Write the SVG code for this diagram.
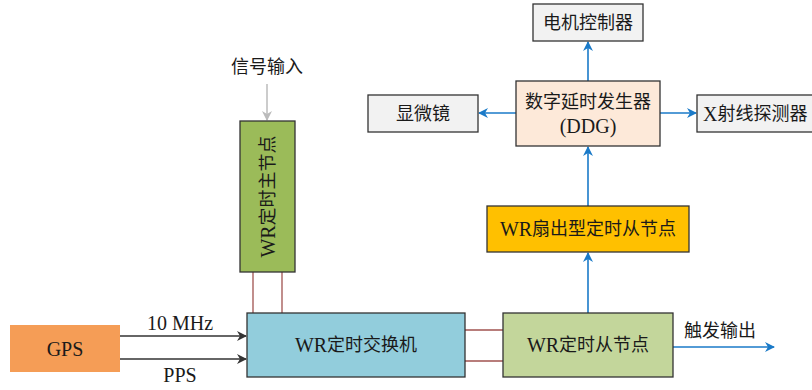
<svg xmlns="http://www.w3.org/2000/svg" width="812" height="390" viewBox="0 0 812 390">
<style>
text{font-family:"Liberation Serif","Noto Sans CJK SC",serif;font-size:18px;fill:#1a1a1a;text-anchor:middle;dominant-baseline:central}
.L{font-size:20px}
.box{stroke:#333;stroke-width:1.3}
.blk{stroke:#333;stroke-width:1.3;fill:none}
.blue{stroke:#1a7ac8;stroke-width:1.6;fill:none}
.red{stroke:#a0524f;stroke-width:1.3;fill:none}
.gray{stroke:#bbb;stroke-width:1.5;fill:none}
</style>
<defs>
<marker id="ab" viewBox="0 0 10 10" refX="9" refY="5" markerWidth="10" markerHeight="10" markerUnits="userSpaceOnUse" orient="auto"><path d="M0,0 L10,5 L0,10 L3,5 Z" fill="#1a7ac8"/></marker>
<marker id="ak" viewBox="0 0 10 10" refX="9" refY="5" markerWidth="10" markerHeight="10" markerUnits="userSpaceOnUse" orient="auto"><path d="M0,0 L10,5 L0,10 L3,5 Z" fill="#333"/></marker>
<marker id="ag" viewBox="0 0 10 10" refX="9" refY="5" markerWidth="10" markerHeight="10" markerUnits="userSpaceOnUse" orient="auto"><path d="M0,0 L10,5 L0,10 L3,5 Z" fill="#bbb"/></marker>
</defs>
<g id="connectors">
<line class="blk" x1="120" y1="336" x2="246" y2="336" marker-end="url(#ak)"/>
<line class="blk" x1="120" y1="359" x2="246" y2="359" marker-end="url(#ak)"/>
<text x="180" y="323" class="L">10 MHz</text>
<text x="180" y="375" class="L">PPS</text>
<line class="gray" x1="267" y1="84" x2="267" y2="120" marker-end="url(#ag)"/>
<text x="267" y="67">信号输入</text>
<line class="red" x1="253" y1="272" x2="253" y2="313"/>
<line class="red" x1="282" y1="272" x2="282" y2="313"/>
<line class="red" x1="465" y1="330" x2="503" y2="330"/>
<line class="red" x1="465" y1="361" x2="503" y2="361"/>
<line class="blue" x1="588" y1="313" x2="588" y2="253" marker-end="url(#ab)"/>
<line class="blue" x1="588" y1="206" x2="588" y2="147" marker-end="url(#ab)"/>
<line class="blue" x1="588" y1="81" x2="588" y2="42" marker-end="url(#ab)"/>
<line class="blue" x1="516" y1="113" x2="479" y2="113" marker-end="url(#ab)"/>
<line class="blue" x1="660" y1="113" x2="696" y2="113" marker-end="url(#ab)"/>
<line class="blue" x1="673" y1="347" x2="774" y2="347" marker-end="url(#ab)"/>
<text x="720" y="331">触发输出</text>
</g>
<g id="gps"><rect x="10" y="325" width="110" height="47" fill="#f59d56"/><text x="65" y="348.5" class="L">GPS</text></g>
<g id="switch"><rect class="box" x="247" y="313" width="218" height="64" fill="#92cddc"/><text x="356" y="345"><tspan class="L">WR</tspan>定时交换机</text></g>
<g id="master"><rect class="box" x="240" y="121" width="55" height="151" fill="#9bbb59"/><text x="267.5" y="196.5" transform="rotate(-90 267.5 196.5)"><tspan class="L">WR</tspan>定时主节点</text></g>
<g id="slave"><rect class="box" x="503" y="313" width="170" height="64" fill="#c3d69b"/><text x="588" y="345"><tspan class="L">WR</tspan>定时从节点</text></g>
<g id="fanout"><rect class="box" x="487" y="206" width="202" height="46" fill="#ffc000"/><text x="588" y="229"><tspan class="L">WR</tspan>扇出型定时从节点</text></g>
<g id="ddg"><rect class="box" x="516" y="81" width="144" height="65" fill="#fde9d9"/><text x="588" y="102">数字延时发生器</text><text x="588" y="126" class="L">(DDG)</text></g>
<g id="motor"><rect class="box" x="533" y="4" width="110" height="37" fill="#f2f2f2"/><text x="588" y="22.5">电机控制器</text></g>
<g id="microscope"><rect class="box" x="368" y="95" width="110" height="37" fill="#f2f2f2"/><text x="423" y="113.5">显微镜</text></g>
<g id="xray"><rect class="box" x="697" y="95" width="125" height="37" fill="#f2f2f2"/><text x="703" y="113.5" style="text-anchor:start"><tspan class="L">X</tspan>射线探测器</text></g>
</svg>
